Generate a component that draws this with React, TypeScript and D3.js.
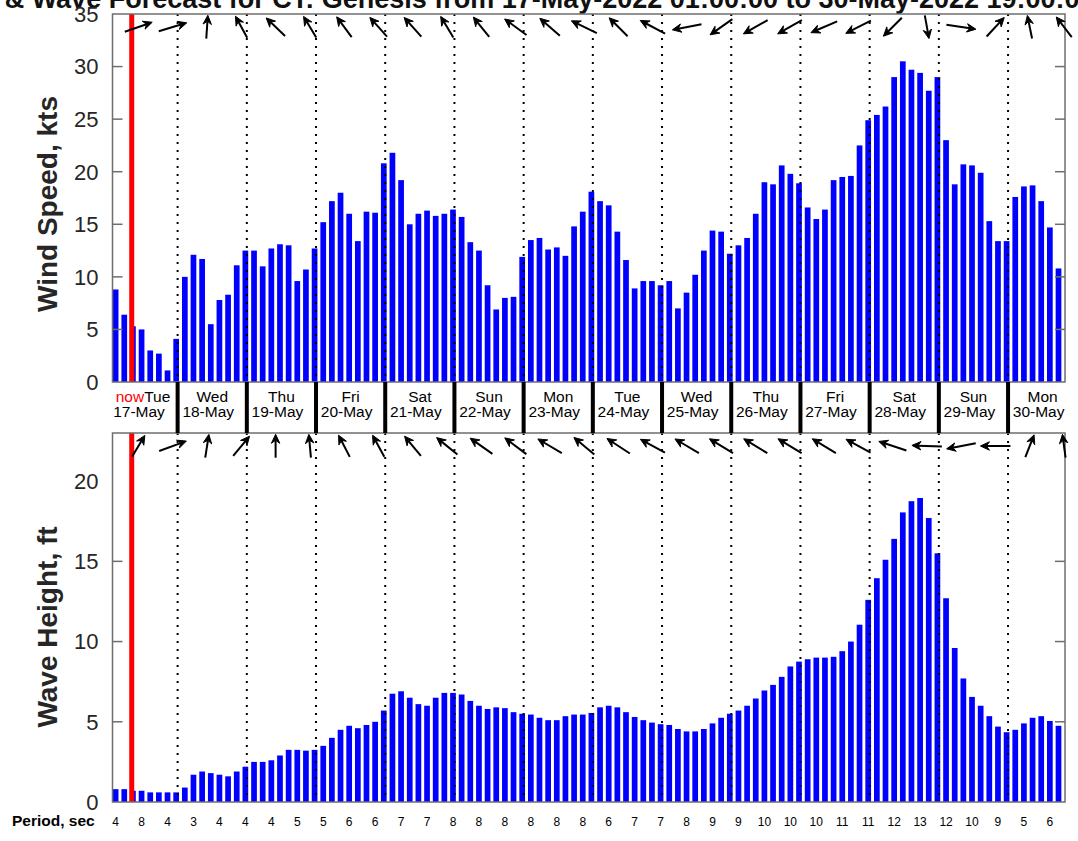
import { useEffect, useRef } from "react";
import * as d3 from "d3";

const HOUR = 3600 * 1000;
const firstSample = Date.UTC(2022, 4, 17, 1);
const viewStart = new Date(Date.UTC(2022, 4, 17, 1, 25));
const viewEnd = new Date(Date.UTC(2022, 4, 30, 19, 45));
const nowTime = new Date(Date.UTC(2022, 4, 17, 8, 5));

const titleText =
  "Wind & Wave Forecast for CT: Genesis from 17-May-2022 01:00:00 to 30-May-2022 19:00:00";

// 3-hourly wind speed, kts
const windSpeed = [
  8.8, 6.4, 5.3, 5.0, 3.0, 2.7, 1.1, 4.1, 10.0, 12.1, 11.7, 5.5, 7.8, 8.3, 11.1, 12.5,
  12.5, 11.0, 12.7, 13.1, 13.0, 9.6, 10.7, 12.7, 15.2, 17.2, 18.0, 16.0, 13.4, 16.2,
  16.1, 20.8, 21.8, 19.2, 15.0, 16.0, 16.3, 15.8, 16.0, 16.4, 15.7, 13.3, 12.5, 9.2,
  6.9, 8.0, 8.1, 11.9, 13.5, 13.7, 12.6, 12.8, 12.0, 14.8, 16.2, 18.1, 17.2, 16.8,
  14.3, 11.6, 8.9, 9.6, 9.6, 9.2, 9.6, 7.0, 8.5, 10.2, 12.5, 14.4, 14.3, 12.2, 13.0,
  13.7, 16.0, 19.0, 18.8, 20.6, 19.8, 18.9, 16.6, 15.5, 16.4, 19.2, 19.5, 19.6, 22.5,
  24.9, 25.4, 26.2, 29.0, 30.5, 29.7, 29.4, 27.7, 29.0, 23.0, 18.8, 20.7, 20.6, 19.9,
  15.3, 13.4, 13.4, 17.6, 18.6, 18.7, 17.2, 14.7, 10.8,
];

// 3-hourly wave height, ft
const waveHeight = [
  0.8, 0.8, 0.7, 0.7, 0.6, 0.6, 0.6, 0.6, 0.9, 1.7, 1.9, 1.8, 1.7, 1.6, 1.9, 2.2,
  2.5, 2.5, 2.6, 2.9, 3.25, 3.25, 3.2, 3.25, 3.5, 4.0, 4.5, 4.75, 4.6, 4.8, 5.0, 5.7,
  6.75, 6.9, 6.5, 6.1, 6.0, 6.5, 6.8, 6.8, 6.7, 6.3, 6.0, 5.8, 5.9, 5.85, 5.6, 5.5,
  5.45, 5.25, 5.1, 5.1, 5.35, 5.45, 5.45, 5.55, 5.9, 6.0, 5.9, 5.6, 5.3, 5.1, 4.95,
  4.85, 4.8, 4.55, 4.4, 4.4, 4.55, 4.9, 5.25, 5.5, 5.7, 6.0, 6.45, 6.95, 7.3, 7.8,
  8.45, 8.75, 8.9, 9.0, 9.0, 9.05, 9.4, 10.0, 11.05, 12.6, 13.95, 15.1, 16.4, 18.05,
  18.75, 18.95, 17.7, 15.5, 12.7, 9.6, 7.7, 6.55, 6.0, 5.35, 4.7, 4.35, 4.5, 4.9,
  5.25, 5.35, 5.05, 4.75,
];

// wave period every 9 hours (every 3rd sample)
const periodSec = [
  4, 8, 4, 3, 4, 4, 4, 5, 5, 6, 6, 7, 7, 8, 8, 8, 8, 8, 8, 6, 7, 7, 8, 9, 9, 10, 10,
  10, 11, 11, 12, 13, 12, 10, 9, 5, 6,
];

// direction the arrow points, degrees clockwise from up, every 12 hours
const windDir = [
  66, 69, 3, 337, 321, 335, 330, 325, 325, 335, 328, 313, 318, 302, 322, 304, 256, 228,
  234, 234, 241, 237, 218, 172, 101, 36, 351, 329,
];
const waveDir = [
  25, 65, 7, 33, 0, 356, 338, 337, 327, 316, 312, 314, 307, 317, 310, 305, 307, 308, 308,
  308, 308, 305, 293, 273, 256, 270, 17, 354,
];

const dayNames = ["Tue", "Wed", "Thu", "Fri", "Sat", "Sun", "Mon", "Tue", "Wed", "Thu", "Fri", "Sat", "Sun", "Mon"];
const dayDates = ["17-May", "18-May", "19-May", "20-May", "21-May", "22-May", "23-May", "24-May", "25-May", "26-May", "27-May", "28-May", "29-May", "30-May"];

const windTicks = [0, 5, 10, 15, 20, 25, 30, 35];
const waveTicks = [0, 5, 10, 15, 20];

const W = 1078;
const H = 841;
const left = 112.5;
const right = 1065;
const top1 = 14;
const bot1 = 382;
const top2 = 433;
const bot2 = 802;
const FONT = "'Liberation Sans', Arial, Helvetica, sans-serif";
const axisGrey = "#6e6e6e";
const textGrey = "#262626";

function arrowGeom(cx: number, cy: number, deg: number) {
  const a = (deg * Math.PI) / 180;
  const hx = 15 * Math.sin(a);
  const hy = -11.7 * Math.cos(a);
  const len = Math.hypot(hx, hy) * 2;
  const ux = (2 * hx) / len;
  const uy = (2 * hy) / len;
  const tipX = cx + hx;
  const tipY = cy + hy;
  const hl = 9;
  const hw = 4.2;
  const notch = 6;
  const head = [
    [tipX, tipY],
    [tipX - hl * ux - hw * uy, tipY - hl * uy + hw * ux],
    [tipX - notch * ux, tipY - notch * uy],
    [tipX - hl * ux + hw * uy, tipY - hl * uy - hw * ux],
  ];
  return {
    x1: cx - hx,
    y1: cy - hy,
    x2: tipX - notch * ux,
    y2: tipY - notch * uy,
    head: "M" + head.map((p) => p.join(",")).join("L") + "Z",
  };
}

export default function App() {
  const ref = useRef<SVGSVGElement>(null);

  useEffect(() => {
    const svg = d3.select(ref.current);
    svg.selectAll("*").remove();

    const x = d3.scaleUtc().domain([viewStart, viewEnd]).range([left, right]);
    const windY = d3.scaleLinear().domain([0, 35]).range([bot1, top1]);
    const waveY = d3.scaleLinear().domain([0, 23]).range([bot2, top2]);
    const arrowX = d3.scaleLinear().domain([0, windDir.length - 1]).range([138.5, 1064]);

    const sampleTime = (i: number) => new Date(firstSample + i * 3 * HOUR);
    const barCenter = (i: number) => x(new Date(firstSample + (i * 3 + 1.5) * HOUR));
    const barW = (x(sampleTime(1)) - x(sampleTime(0))) * 0.66;

    const dayLines = d3.utcDay.range(new Date(Date.UTC(2022, 4, 18)), viewEnd);
    const noons = dayDates.map((_, i) => new Date(Date.UTC(2022, 4, 17 + i, 12)));

    // title (runs off the top and sides of the page)
    svg
      .append("text")
      .attr("x", 513)
      .attr("y", 8)
      .attr("text-anchor", "middle")
      .attr("font-family", FONT)
      .attr("font-weight", "bold")
      .attr("font-size", 27)
      .attr("fill", "#111")
      .text(titleText);

    const panels = [
      { data: windSpeed, y: windY, ticks: windTicks, t: top1, b: bot1, label: "Wind Speed, kts", dirs: windDir, lc: 204 },
      { data: waveHeight, y: waveY, ticks: waveTicks, t: top2, b: bot2, label: "Wave Height, ft", dirs: waveDir, lc: 627 },
    ];

    panels.forEach((p) => {
      const g = svg.append("g");

      g.selectAll(".bar")
        .data(p.data)
        .enter()
        .append("rect")
        .attr("x", (d, i) => barCenter(i) - barW / 2)
        .attr("y", (d) => p.y(d))
        .attr("width", barW)
        .attr("height", (d) => p.y(0) - p.y(d))
        .attr("fill", "#0000ff");

      g.selectAll(".dayLine")
        .data(dayLines)
        .enter()
        .append("line")
        .attr("x1", (d) => x(d))
        .attr("x2", (d) => x(d))
        .attr("y1", p.t)
        .attr("y2", p.b)
        .attr("stroke", "#000")
        .attr("stroke-width", 2)
        .attr("stroke-dasharray", "2 6");

      g.append("rect")
        .attr("x", x(nowTime) - 2.5)
        .attr("y", p.t)
        .attr("width", 5)
        .attr("height", p.b - p.t)
        .attr("fill", "#ff0000");

      // frame
      g.append("rect")
        .attr("x", left)
        .attr("y", p.t)
        .attr("width", right - left)
        .attr("height", p.b - p.t)
        .attr("fill", "none")
        .attr("stroke", axisGrey)
        .attr("stroke-width", 1.5);

      const inner = p.ticks.slice(1, -1);
      g.selectAll(".tickL")
        .data(inner)
        .enter()
        .append("line")
        .attr("x1", left)
        .attr("x2", left + 10)
        .attr("y1", (d) => p.y(d))
        .attr("y2", (d) => p.y(d))
        .attr("stroke", axisGrey)
        .attr("stroke-width", 1.5);
      g.selectAll(".tickR")
        .data(inner)
        .enter()
        .append("line")
        .attr("x1", right - 10)
        .attr("x2", right)
        .attr("y1", (d) => p.y(d))
        .attr("y2", (d) => p.y(d))
        .attr("stroke", axisGrey)
        .attr("stroke-width", 1.5);

      g.selectAll(".tickLabel")
        .data(p.ticks)
        .enter()
        .append("text")
        .attr("x", left - 14)
        .attr("y", (d) => p.y(d))
        .attr("dy", "0.36em")
        .attr("text-anchor", "end")
        .attr("font-family", FONT)
        .attr("font-size", 22)
        .attr("fill", textGrey)
        .text((d) => d);

      g.append("text")
        .attr("transform", `translate(57,${p.lc}) rotate(-90)`)
        .attr("text-anchor", "middle")
        .attr("font-family", FONT)
        .attr("font-weight", "bold")
        .attr("font-size", 28)
        .attr("fill", textGrey)
        .text(p.label);

      // direction arrows along the top of the panel
      const arrows = g
        .selectAll(".arrow")
        .data(p.dirs)
        .enter()
        .append("g")
        .datum((d, i) => arrowGeom(arrowX(i), p.t + 13, d));
      arrows
        .append("line")
        .attr("x1", (d) => d.x1)
        .attr("y1", (d) => d.y1)
        .attr("x2", (d) => d.x2)
        .attr("y2", (d) => d.y2)
        .attr("stroke", "#000")
        .attr("stroke-width", 2);
      arrows
        .append("path")
        .attr("d", (d) => d.head)
        .attr("fill", "#000")
        .attr("stroke", "#000")
        .attr("stroke-width", 1)
        .attr("stroke-linejoin", "miter");
    });

    // day band between panels
    svg
      .selectAll(".daySep")
      .data(dayLines)
      .enter()
      .append("rect")
      .attr("x", (d) => x(d) - 2)
      .attr("y", bot1)
      .attr("width", 4)
      .attr("height", top2 - bot1)
      .attr("fill", "#000");

    const dayLabel = svg
      .selectAll(".dayName")
      .data(noons)
      .enter()
      .append("text")
      .attr("x", (d) => x(d))
      .attr("y", 401.5)
      .attr("text-anchor", "middle")
      .attr("font-family", FONT)
      .attr("font-size", 15.5)
      .attr("fill", "#000");
    dayLabel
      .filter((d, i) => i === 0)
      .append("tspan")
      .attr("fill", "#ff0000")
      .text("now");
    dayLabel.append("tspan").text((d, i) => dayNames[i]);

    svg
      .selectAll(".dayDate")
      .data(noons)
      .enter()
      .append("text")
      .attr("x", (d) => x(d) - 4)
      .attr("y", 416.5)
      .attr("text-anchor", "middle")
      .attr("font-family", FONT)
      .attr("font-size", 15.5)
      .attr("fill", "#000")
      .text((d, i) => dayDates[i]);

    // wave period row
    svg
      .append("text")
      .attr("x", 12)
      .attr("y", 826)
      .attr("font-family", FONT)
      .attr("font-weight", "bold")
      .attr("font-size", 15.5)
      .attr("fill", "#000")
      .text("Period, sec");

    svg
      .selectAll(".period")
      .data(periodSec)
      .enter()
      .append("text")
      .attr("x", (d, i) => barCenter(i * 3))
      .attr("y", 826)
      .attr("text-anchor", "middle")
      .attr("font-family", FONT)
      .attr("font-size", 12)
      .attr("fill", "#000")
      .text((d) => d);
  }, []);

  return (
    <div style={{ position: "absolute", left: 0, top: 0 }}>
      <svg ref={ref} width={W} height={H} style={{ display: "block", background: "#fff" }}></svg>
    </div>
  );
}
